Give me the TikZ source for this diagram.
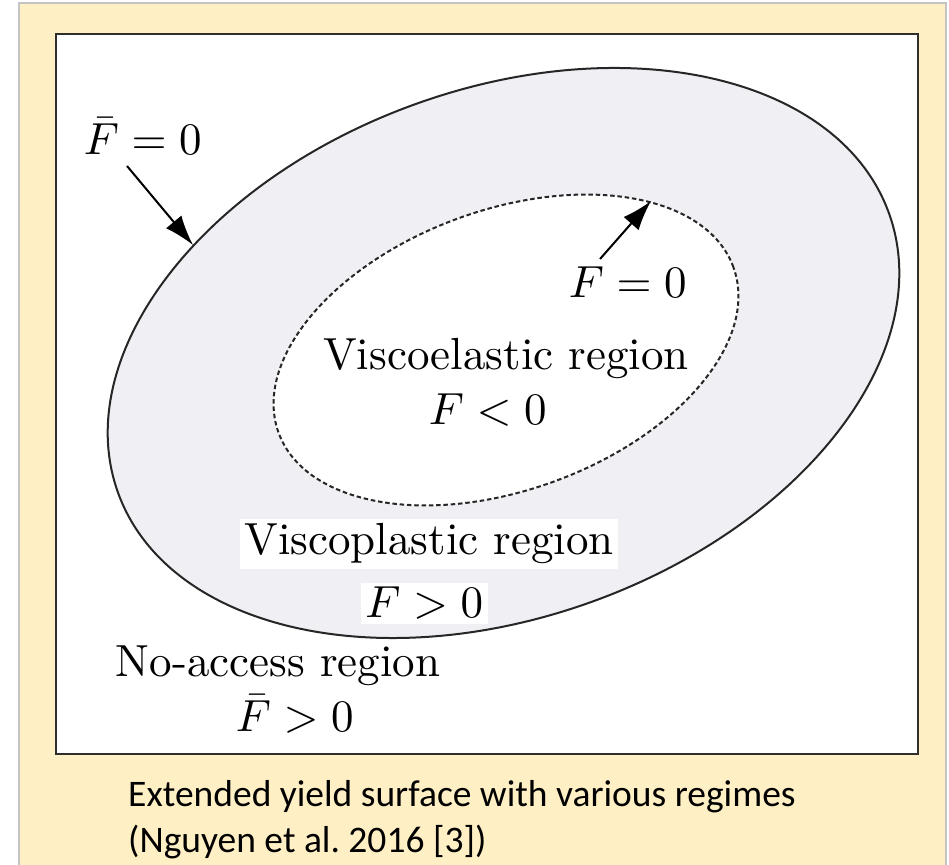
\documentclass[tikz,border=0pt]{standalone}
\usepackage{fontspec}
\newfontfamily\capfont{Carlito}
\usetikzlibrary{arrows.meta}
\definecolor{slidebg}{HTML}{FFEFC4}
\definecolor{slideedge}{HTML}{C4C4C4}
\definecolor{ellgray}{HTML}{EFEFF4}
\definecolor{boxedge}{HTML}{2E2E2E}
\tikzset{
  lab/.style={inner sep=0pt, scale=4.5, transform shape, font=\fontsize{10}{12}\selectfont},
  whitelab/.style={lab, fill=white, inner sep=1pt},
  ptr/.style={line width=2pt, -{Latex[length=30pt,width=20pt]}},
  captext/.style={inner sep=0pt, anchor=base west, font=\capfont\fontsize{37.5}{45.75}\selectfont}
}
\begin{document}
\begin{tikzpicture}[x=1pt,y=1pt]
\useasboundingbox (0,0) rectangle (949,864);
% slide background
\fill[white] (0,0) rectangle (949,864);
\draw[fill=slidebg, draw=slideedge, line width=1.5pt] (19,-10) rectangle (946,861);
% figure frame
\draw[fill=white, draw=boxedge, line width=2pt] (56,110) rectangle (918,830);
% outer yield surface
\draw[fill=ellgray, draw=black!85, line width=2pt, rotate around={20:(503.5,511)}] (503.5,511) ellipse [x radius=410, y radius=264];
% inner yield surface
\draw[fill=white, draw=black!85, line width=2pt, dash pattern=on 4.5pt off 2.8pt, rotate around={20:(506,514)}] (506,514) ellipse [x radius=242, y radius=140];
% labels
\node[lab, anchor=base west] (fbar0) at (83,709) {$\bar F = 0$};
\node[lab, anchor=base west] (f0) at (568,566) {$F = 0$};
\node[lab, anchor=base] (visco) at (506,494) {Viscoelastic region};
\node[lab, anchor=base west] (flt) at (428,439) {$F < 0$};
\node[whitelab, anchor=base] (vplast) at (429,309) {Viscoplastic region};
\node[whitelab, anchor=base west] (fgt) at (360,246) {$F > 0$};
\node[lab, anchor=base west] (noacc) at (115,187) {No-access region};
\node[lab, anchor=base west] (fbargt) at (235,132) {$\bar F > 0$};
% arrows
\coordinate (a1s) at (127,698);
\coordinate (a1e) at (193,619);
\coordinate (a2s) at (600,605);
\coordinate (a2e) at (651,663);
\draw[ptr] (a1s) -- (a1e);
\draw[ptr] (a2s) -- (a2e);
% caption
\node[captext] (cap1) at (128,58) {Extended yield surface with various regimes};
\node[captext] (cap2) at (128,12) {(Nguyen et al.\ 2016 [3])};
\end{tikzpicture}
\end{document}
